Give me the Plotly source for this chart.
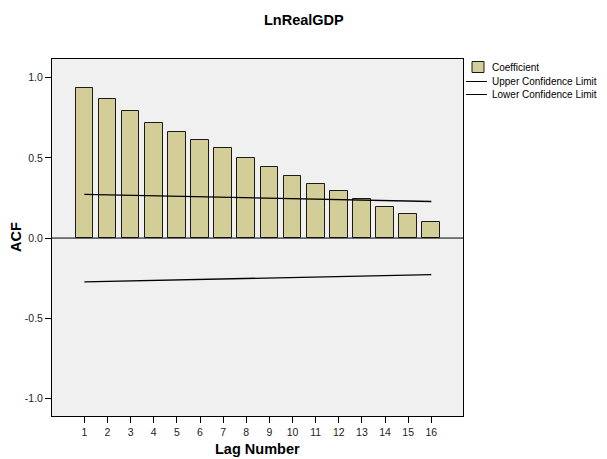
import plotly.graph_objects as go

lags = list(range(1, 17))
acf = [0.937, 0.867, 0.792, 0.719, 0.663, 0.613, 0.560, 0.498,
       0.442, 0.386, 0.338, 0.294, 0.244, 0.194, 0.148, 0.098]
upper = [0.273, 0.270, 0.267, 0.264, 0.261, 0.258, 0.255, 0.252,
         0.249, 0.246, 0.243, 0.240, 0.237, 0.234, 0.231, 0.228]
lower = [-u for u in upper]
ytick_vals = [-1.0, -0.5, 0.0, 0.5, 1.0]
ytick_text = ["-1.0", "-0.5", "0.0", "0.5", "1.0"]
legend_labels = ["Coefficient", "Upper Confidence Limit", "Lower Confidence Limit"]

FONT = "Liberation Sans, Arial, sans-serif"
BAR = "#d3ce97"

# page body has an 8px margin; work in window pixel coordinates
OFF = 8
PL, PR, PT, PB = 52, 463, 59, 416  # plot area in window px
W = PR - PL
H = PB - PT
FIG_W, FIG_H = 607 - OFF, 459 - OFF


def px_x(p):
    return (p - PL) / W


def px_y(p):
    return (PB - p) / H


fig = go.Figure()
fig.add_trace(go.Bar(x=lags, y=acf, width=0.765,
                     marker=dict(color=BAR, line=dict(color="#1a1a1a", width=1)),
                     showlegend=False))
fig.add_trace(go.Scatter(x=lags, y=upper, mode="lines", line=dict(color="black", width=1.3), showlegend=False))
fig.add_trace(go.Scatter(x=lags, y=lower, mode="lines", line=dict(color="black", width=1.3), showlegend=False))

shapes = [
    dict(type="line", xref="paper", yref="y", x0=0, x1=1, y0=0, y1=0, line=dict(color="black", width=1)),
    dict(type="rect", xref="paper", yref="paper", x0=px_x(472), x1=px_x(484), y0=px_y(61.5), y1=px_y(72.5),
         fillcolor=BAR, line=dict(color="#1a1a1a", width=1)),
    dict(type="line", xref="paper", yref="paper", x0=px_x(466), x1=px_x(487), y0=px_y(81.5), y1=px_y(81.5),
         line=dict(color="black", width=1)),
    dict(type="line", xref="paper", yref="paper", x0=px_x(466), x1=px_x(487), y0=px_y(94.5), y1=px_y(94.5),
         line=dict(color="black", width=1)),
]
annotations = [
    dict(text="<b>LnRealGDP</b>", xref="paper", yref="paper", x=px_x(304), y=px_y(20), xanchor="center",
         yanchor="middle", showarrow=False, font=dict(family=FONT, size=14.5, color="black")),
    dict(text="<b>ACF</b>", xref="paper", yref="paper", x=px_x(16), y=px_y(237), xanchor="center",
         yanchor="middle", textangle=-90, showarrow=False, font=dict(family=FONT, size=14.5, color="black")),
    dict(text="<b>Lag Number</b>", xref="paper", yref="paper", x=px_x(257.5), y=px_y(449), xanchor="center",
         yanchor="middle", showarrow=False, font=dict(family=FONT, size=14.5, color="black")),
]
for lab, yy in zip(legend_labels, [67, 81.5, 94.5]):
    annotations.append(dict(text=lab, xref="paper", yref="paper", x=px_x(491), y=px_y(yy), xanchor="left",
                            yanchor="middle", showarrow=False, borderpad=0,
                            font=dict(family=FONT, size=10, color="black")))

fig.update_layout(
    width=FIG_W, height=FIG_H,
    margin=dict(l=PL - OFF, r=FIG_W - (PR - OFF), t=PT - OFF, b=FIG_H - (PB - OFF)),
    paper_bgcolor="white", plot_bgcolor="#f0f0f0",
    bargap=0,
    font=dict(family=FONT, size=10.5, color="#222"),
    shapes=shapes, annotations=annotations,
    xaxis=dict(range=[-0.40, 17.37], tickmode="array", tickvals=lags, ticktext=[str(v) for v in lags],
               ticks="outside", ticklen=6, tickcolor="black", showgrid=False, zeroline=False,
               showline=True, linecolor="black", linewidth=1, mirror=True,
               tickfont=dict(family=FONT, size=10.5, color="#222")),
    yaxis=dict(range=[-1.11, 1.117], tickmode="array", tickvals=ytick_vals, ticktext=ytick_text,
               ticks="outside", ticklen=6, tickcolor="black", showgrid=False, zeroline=False,
               showline=True, linecolor="black", linewidth=1, mirror=True,
               tickfont=dict(family=FONT, size=10.5, color="#222")),
)

fig.write_html("out.html")
